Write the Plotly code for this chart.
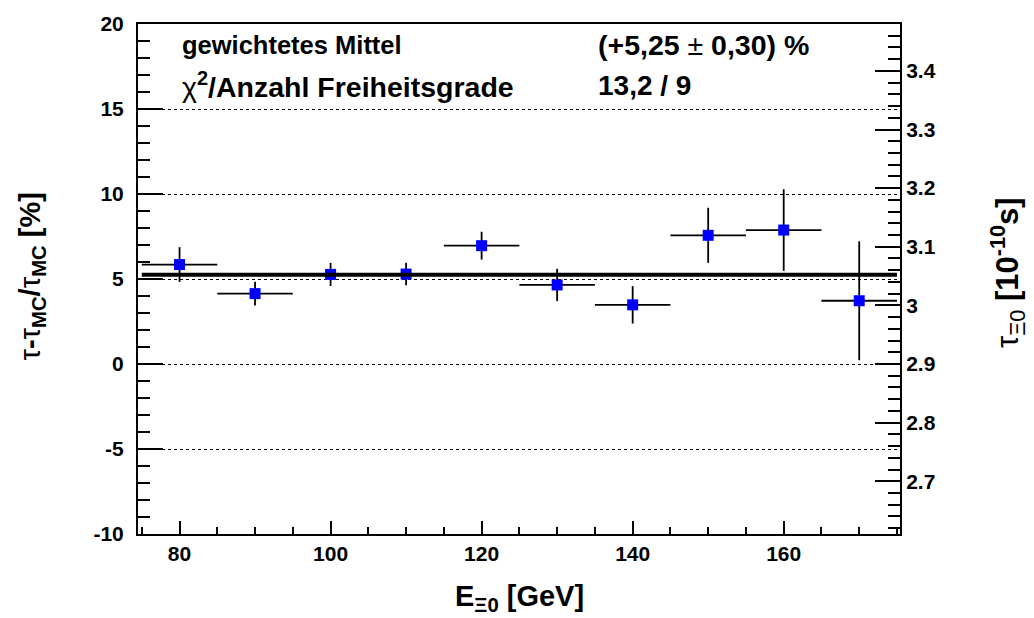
import plotly.graph_objects as go

# ---- data ----
energy = [80, 90, 100, 110, 120, 130, 140, 150, 160, 170]          # GeV (bin centres)
energy_halfwidth = [5, 5, 5, 5, 5, 5, 5, 5, 5, 5]                  # GeV
deviation_pct = [5.85, 4.14, 5.27, 5.29, 6.96, 4.65, 3.48, 7.57, 7.88, 3.72]
deviation_err = [1.02, 0.70, 0.68, 0.66, 0.82, 0.95, 1.10, 1.62, 2.40, 3.50]
mean_pct = 5.25
mean_err = 0.30
chi2 = "13,2"
ndf = 9
fit_range = [75, 175]
tau_mc = 2.9            # 10^-10 s
x_range = [74.5, 175.4]
y_range = [-10, 20]
y_tick_values = [-10, -5, 0, 5, 10, 15, 20]
y_tick_labels = ["-10", "-5", "0", "5", "10", "15", "20"]

FONT = "Liberation Sans, Arial, Helvetica, sans-serif"

fig = go.Figure()

fig.add_trace(go.Scatter(
    x=energy, y=deviation_pct, mode="markers",
    marker=dict(symbol="square", size=11, color="#0000ff", line=dict(width=0)),
    error_x=dict(type="data", array=energy_halfwidth, color="black", thickness=1.8, width=0),
    error_y=dict(type="data", array=deviation_err, color="black", thickness=1.8, width=0),
    showlegend=False,
))

fig.add_trace(go.Scatter(
    x=fit_range, y=[mean_pct, mean_pct], mode="lines",
    line=dict(color="black", width=4), showlegend=False,
))

# dummy trace so the right (tau) axis is drawn
fig.add_trace(go.Scatter(x=[None], y=[None], yaxis="y2", showlegend=False))

tick_font = dict(family=FONT, size=21, color="black", weight="bold")

fig.update_layout(
    width=1034, height=618,
    margin=dict(l=138, r=134, t=20, b=84),
    paper_bgcolor="white", plot_bgcolor="white",
    font=dict(family=FONT, color="black"),
    xaxis=dict(
        range=x_range, showline=True, linewidth=2, linecolor="black", mirror=True,
        ticks="inside", ticklen=13, tickwidth=1.5, tickcolor="black",
        tick0=0, dtick=20,
        minor=dict(dtick=5, tick0=0, ticks="inside", ticklen=7, tickwidth=1.5, tickcolor="black"),
        showgrid=False, zeroline=False, tickfont=tick_font, ticklabelstandoff=0,
    ),
    yaxis=dict(
        range=y_range, showline=True, linewidth=2, linecolor="black",
        ticks="inside", ticklen=25, tickwidth=1.5, tickcolor="black",
        tickmode="array", tickvals=y_tick_values, ticktext=y_tick_labels,
        minor=dict(tickmode="linear", dtick=1, tick0=0, ticks="inside", ticklen=12, tickwidth=1.5,
                   tickcolor="black", showgrid=False),
        showgrid=True, gridcolor="black", gridwidth=1, griddash="dot",
        zeroline=False, tickfont=tick_font, ticklabelstandoff=8,
    ),
    yaxis2=dict(
        overlaying="y", side="right",
        range=[tau_mc * (1 + y_range[0] / 100), tau_mc * (1 + y_range[1] / 100)],
        showline=True, linewidth=2, linecolor="black",
        ticks="inside", ticklen=25, tickwidth=1.5, tickcolor="black",
        tick0=2.7, dtick=0.1,
        minor=dict(dtick=0.02, tick0=2.7, ticks="inside", ticklen=12, tickwidth=1.5, tickcolor="black"),
        showgrid=False, zeroline=False, tickfont=tick_font, ticklabelstandoff=0,
    ),
)

fig.add_annotation(xref="x", yref="y", x=80, y=18.75, xanchor="left", yanchor="middle",
                   text="<b>gewichtetes Mittel</b>", showarrow=False,
                   font=dict(family=FONT, size=25.5, color="black"))
fig.add_annotation(xref="x", yref="y", x=135.1, y=18.75, xanchor="left", yanchor="middle",
                   text=f"<b>(+{mean_pct:.2f}</b> ± <b>{mean_err:.2f}) %</b>".replace(".", ","),
                   showarrow=False, font=dict(family=FONT, size=28.5, color="black"))
fig.add_annotation(xref="x", yref="y", x=80, y=16.4, xanchor="left", yanchor="middle",
                   text="χ<sup><b>2</b></sup><b>/Anzahl Freiheitsgrade</b>", showarrow=False,
                   font=dict(family=FONT, size=28.5, color="black"))
fig.add_annotation(xref="x", yref="y", x=135.1, y=16.4, xanchor="left", yanchor="middle",
                   text=f"<b>{chi2} / {ndf}</b>", showarrow=False,
                   font=dict(family=FONT, size=28, color="black"))

# axis titles
fig.add_annotation(xref="paper", yref="paper", x=0.5, y=-0.125, xanchor="center", yanchor="middle",
                   text="<b>E<sub>Ξ0</sub> [GeV]</b>", showarrow=False,
                   font=dict(family=FONT, size=29, color="black"))
fig.add_annotation(xref="paper", yref="paper", x=-0.139, y=0.505, xanchor="center", yanchor="middle",
                   textangle=-90,
                   text="τ<b>-</b>τ<sub><b>MC</b></sub><b>/</b>τ<sub><b>MC</b></sub><b> [%]</b>",
                   showarrow=False, font=dict(family=FONT, size=29, color="black"))
fig.add_annotation(xref="paper", yref="paper", x=1.142, y=0.512, xanchor="center", yanchor="middle",
                   textangle=-90,
                   text="τ<sub>Ξ0</sub><b> [10<sup>-10</sup>s]</b>",
                   showarrow=False, font=dict(family=FONT, size=31, color="black"))

fig.write_html(
    "out.html",
    config={"displayModeBar": False},
    post_script="document.body.style.margin='0';document.body.style.overflow='hidden';",
)
